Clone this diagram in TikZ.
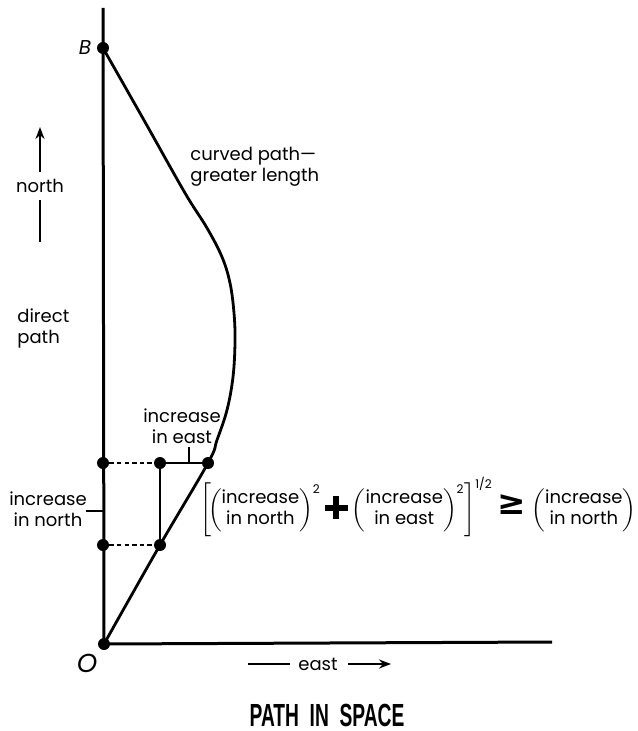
\documentclass[tikz,border=0pt]{standalone}
\usepackage{fontspec}
\usepackage{amsmath}
\setmainfont{Poppins}
\newfontfamily\titlefont[FakeStretch=0.6]{Liberation Sans}
\newfontfamily\symbfont{DejaVu Sans}
\usetikzlibrary{arrows.meta,positioning}
\tikzset{
  axisS/.style  ={line width=1.5pt},
  curveS/.style ={line width=1.4pt},
  thinS/.style  ={line width=0.7pt},
  dashS/.style  ={line width=0.7pt, dash pattern=on 2.2pt off 1.6pt},
  arrowS/.style ={line width=1.1pt},
  dot/.style    ={circle, fill=black, inner sep=0pt, minimum size=6pt},
  lbl/.style    ={font=\fontsize{9}{10.5}\selectfont, inner sep=0pt},
  ptlbl/.style  ={font=\itshape\fontsize{10}{12}\selectfont, inner sep=0pt},
}
\newcommand{\twoline}[2]{\begin{tabular}{@{}c@{}}#1\\#2\end{tabular}}
\newcommand{\heavyplus}{\mathbin{\rlap{\rule[2pt]{11.5pt}{2.9pt}}\hspace{4.3pt}\rule[-2.3pt]{2.9pt}{11.5pt}\hspace{4.3pt}}}
\newcommand{\heavygeq}{\mathrel{\text{\symbfont\bfseries\fontsize{17}{17}\selectfont ≥}}}

\begin{document}
\begin{tikzpicture}[x=0.5pt, y=-0.5pt]
  \useasboundingbox (0,0) rectangle (637,731);
  % points on the axes and the path
  \node[dot] (o)  at (104,644) {};
  \node[dot] (b)  at (103,48)  {};
  \node[dot] (n1) at (103,545) {};
  \node[dot] (n2) at (103,463) {};
  \node[dot] (c1) at (160,545) {};
  \node[dot] (m)  at (160,463) {};
  \node[dot] (c2) at (208,463) {};
  \coordinate (ytop) at (103,8);
  \coordinate (xend) at (552,642);
  \coordinate (te) at (189,463);
  \coordinate (tn) at (103,511);
  % axes
  \draw[axisS] (o.center) -- (ytop);
  \draw[axisS] (o.center) -- (xend);
  % curved path
  \draw[curveS] plot[smooth, tension=0.6] coordinates {(o.center) (c1.center) (c2.center)
    (217,440) (227,410) (233,377) (235,342) (234,313) (230,283) (222,257) (207,228) (185,193) (145,122) (b.center)};
  % little triangle
  \draw[dashS] (n2) -- (m);
  \draw[dashS] (n1) -- (c1);
  \draw[thinS] (m) -- (c2);
  \draw[thinS] (m) -- (c1);
  % labels
  \node[ptlbl, left=2.5pt of b] (blbl) {B};
  \node[ptlbl, font=\itshape\fontsize{13}{15}\selectfont] (olbl) at (87,663) {O};
  \node[lbl, align=left, anchor=west] (curvedlbl) at (190,167) {curved path---\\greater length};
  \node[lbl, align=left, anchor=west] (directlbl) at (17,328) {direct\\path};
  \node[lbl, align=center] (eastinc) at (182,426) {increase\\in east};
  \node[lbl, align=center] (northinc) at (48,509) {increase\\in north};
  \draw[thinS] (te) -- ++(0,-16);
  \draw[thinS] (tn) -- ++(-17,0);
  % north arrow
  \node[lbl] (northlbl) at (40,186) {north};
  \draw[arrowS, -{Stealth[length=6pt, width=4.5pt]}] ([yshift=3.5pt]northlbl.north) -- (40,127);
  \draw[arrowS] ([yshift=-3.5pt]northlbl.south) -- (40,242);
  % east arrow
  \node[lbl] (eastlbl) at (318,664) {east};
  \draw[arrowS] ([xshift=-4pt]eastlbl.west) -- ++(-42,0);
  \draw[arrowS, -{Stealth[length=6pt, width=4.5pt]}] ([xshift=5pt]eastlbl.east) -- ++(43,0);
  % formula
  \node[lbl, anchor=west] (formula) at (200,507) {$\left[\!\left(\twoline{increase}{in north}\right)^{\text{2}}
    \heavyplus
    \left(\twoline{increase}{in east}\right)^{\text{2}}\right]^{\text{1/2}}
    \heavygeq
    \left(\twoline{increase}{in north}\right)$};
  % title
  \node[font=\titlefont\bfseries\fontsize{16}{18}\selectfont] (title) at (327,715) {PATH~~IN~~SPACE};
\end{tikzpicture}
\end{document}
